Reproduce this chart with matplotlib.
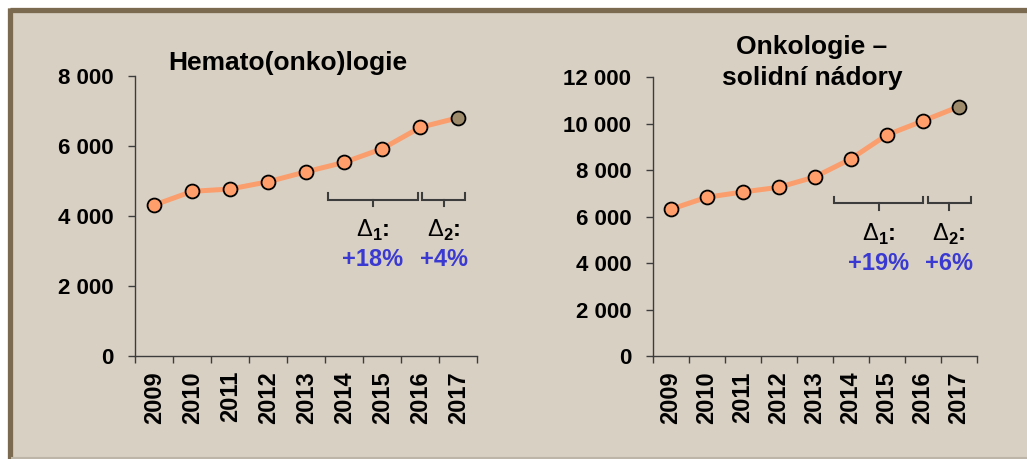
import numpy as np
import matplotlib
matplotlib.use("Agg")
import matplotlib.pyplot as plt
from matplotlib.patches import Rectangle
from matplotlib.lines import Line2D

plt.rcParams['font.family'] = ['Liberation Sans', 'DejaVu Sans']
plt.rcParams['font.weight'] = 'bold'
plt.rcParams['mathtext.fontset'] = 'custom'
plt.rcParams['mathtext.rm'] = 'Liberation Sans:weight=normal'
plt.rcParams['mathtext.bf'] = 'Liberation Sans:weight=bold'

# data
years = ['2009', '2010', '2011', '2012', '2013', '2014', '2015', '2016', '2017']
hemato = [4315, 4707, 4773, 4982, 5268, 5537, 5927, 6539, 6814]
onko = [6323, 6839, 7067, 7269, 7712, 8486, 9518, 10120, 10735]
hemato_yticks = [0, 2000, 4000, 6000, 8000]
onko_yticks = [0, 2000, 4000, 6000, 8000, 10000, 12000]
hemato_delta = ['+18%', '+4%']
onko_delta = ['+19%', '+6%']

BG = '#D9D0C4'
BORDER = '#7B6A50'
LINE = '#FA9E6E'
MARK = '#FF9E6A'
LAST = '#9E8B6C'
BLUE = '#3A3AD2'
AXC = '#3C3C3C'

W, H = 1027, 459
fig = plt.figure(figsize=(W / 100, H / 100), dpi=100, facecolor='white')

# panel background and frame
fig.patches.append(Rectangle((8 / W, 0), 1 - 8 / W, 1 - 8 / H, transform=fig.transFigure,
                             facecolor=BG, edgecolor='none', zorder=-5))
fig.lines.append(Line2D([10 / W, 1], [1 - 10 / H, 1 - 10 / H], transform=fig.transFigure,
                        color=BORDER, lw=3.8, solid_capstyle='butt', zorder=-4))
fig.lines.append(Line2D([10 / W, 10 / W], [0, 1 - 8 / H], transform=fig.transFigure,
                        color=BORDER, lw=3.8, solid_capstyle='butt', zorder=-4))
fig.lines.append(Line2D([12 / W, 1], [1 / H, 1 / H], transform=fig.transFigure,
                        color='#BDB5A8', lw=1.5, zorder=-4))


def fmt(v):
    return f'{v:,}'.replace(',', ' ')


def draw(rect, values, yticks, deltas, b1, b2, by):
    ax = fig.add_axes(rect)
    ax.set_facecolor('none')
    x = np.arange(len(values))
    ax.plot(x, values, color=LINE, lw=3.6, zorder=2)
    ax.plot(x[:-1], values[:-1], 'o', ms=10, mfc=MARK, mec='black', mew=1.3, zorder=3)
    ax.plot(x[-1:], values[-1:], 'o', ms=10, mfc=LAST, mec='black', mew=1.3, zorder=3)
    ax.set_xlim(-0.5, len(values) - 0.5)
    ax.set_ylim(0, yticks[-1])
    ax.set_yticks(yticks)
    ax.set_yticklabels([fmt(v) for v in yticks], fontsize=16, fontweight='bold')
    ax.set_xticks(x)
    ax.set_xticklabels(years, rotation=90, fontsize=17, fontweight='bold')
    ax.set_xticks(np.arange(len(values) + 1) - 0.5, minor=True)
    ax.tick_params(axis='x', which='major', length=0, pad=11)
    ax.tick_params(axis='x', which='minor', length=5, width=1, color=AXC)
    ax.tick_params(axis='y', length=5, width=1, color=AXC, pad=10.5)
    for s in ['top', 'right']:
        ax.spines[s].set_visible(False)
    for s in ['left', 'bottom']:
        ax.spines[s].set_color(AXC)
        ax.spines[s].set_linewidth(1)

    # brackets
    y_top, y_mid, y_tip = by
    for (x0, x1), d, n in zip([b1, b2], deltas, ['1', '2']):
        xc = (x0 + x1) / 2
        ax.plot([x0, x0, x1, x1], [y_top, y_mid, y_mid, y_top], color=AXC, lw=1.5,
                solid_joinstyle='miter', clip_on=False)
        ax.plot([xc, xc], [y_mid, y_tip], color=AXC, lw=1.5, clip_on=False)
        ax.annotate(r'$\Delta_{\mathbf{' + n + '}}$:', (xc, y_tip), xytext=(0, -22),
                    textcoords='offset points', ha='center', va='baseline', fontsize=17,
                    fontweight='bold', color='black')
        ax.annotate(d, (xc, y_tip), xytext=(0, -43.5), textcoords='offset points',
                    ha='center', va='baseline', fontsize=17, fontweight='bold', color=BLUE)
    return ax


draw([135.3 / W, 1 - 355.7 / H, 342 / W, 279.4 / H], hemato, hemato_yticks, hemato_delta,
     (4.57, 6.94), (7.05, 8.18), (4660, 4458, 4286))
draw([652.7 / W, 1 - 356.3 / H, 324 / W, 279 / H], onko, onko_yticks, onko_delta,
     (4.54, 7.02), (7.14, 8.33), (6864, 6581, 6292))

fig.text(287.5 / W, 1 - 70 / H, 'Hemato(onko)logie', ha='center', va='baseline',
         fontsize=19, fontweight='bold')
fig.text(812 / W, 1 - 54 / H, 'Onkologie –', ha='center', va='baseline',
         fontsize=19, fontweight='bold')
fig.text(812 / W, 1 - 85 / H, 'solidní nádory', ha='center', va='baseline',
         fontsize=19, fontweight='bold')

fig.savefig('out.png', dpi=100, facecolor='white')
